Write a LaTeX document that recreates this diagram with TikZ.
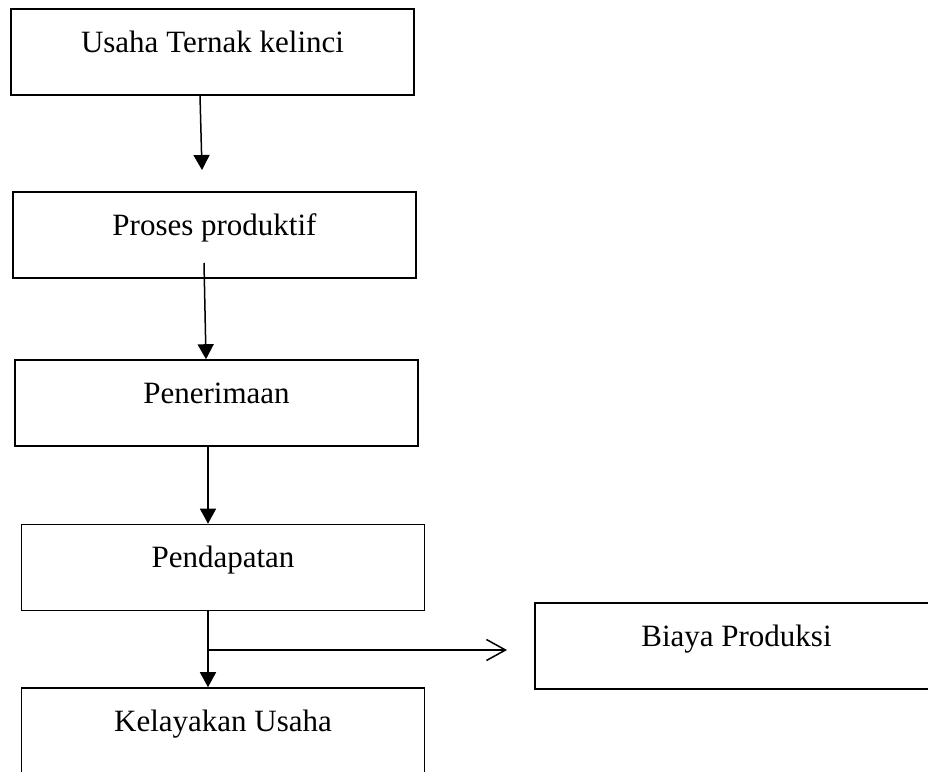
\documentclass[tikz,border=0pt]{standalone}
\usepackage{fontspec}
\setmainfont{Liberation Serif}
\usetikzlibrary{arrows.meta}

\begin{document}
\begin{tikzpicture}[
    x=1pt, y=-1pt,
    box/.style={rectangle, draw=black, line width=1.6pt, minimum width=403pt, minimum height=86pt, inner sep=0pt, text height=22pt, text depth=22pt, font=\fontsize{31}{37}\selectfont},
    flow/.style={line width=1.5pt, draw=black, -{Triangle[length=15pt, width=16pt]}},
    branch/.style={line width=1.5pt, draw=black, -{Straight Barb[length=19pt, width=21pt, line width=1.5pt]}}
]
    \clip (0,0) rectangle (928,771);

    % Main chain
    \node[box] (usaha) at (212.5,52) {Usaha Ternak kelinci};
    \node[box] (proses) at (214.5,235) {Proses produktif};
    \node[box] (terima) at (216.5,403) {Penerimaan};
    \node[box] (dapat) at (223,567.5) {Pendapatan};
    \node[box] (layak) at (223,731) {Kelayakan Usaha};

    % Side box
    \node[box] (biaya) at (736.5,646) {Biaya Produksi};

    % Free ends
    \coordinate (ujung1) at (202,170);
    \coordinate (cabang) at (208,650);
    \coordinate (ujung2) at (507,650);

    % Connections
    \draw[flow] ([xshift=-12.5pt]usaha.south) -- (ujung1);
    \draw[flow] ([xshift=-10.5pt, yshift=16pt]proses.south) -- ([xshift=-10.5pt]terima.north);
    \draw[flow] ([xshift=-8.5pt]terima.south) -- ([xshift=-15pt]dapat.north);
    \draw[flow] ([xshift=-15pt]dapat.south) -- ([xshift=-15pt]layak.north);
    \draw[branch] (cabang) -- (ujung2);

\end{tikzpicture}
\end{document}
